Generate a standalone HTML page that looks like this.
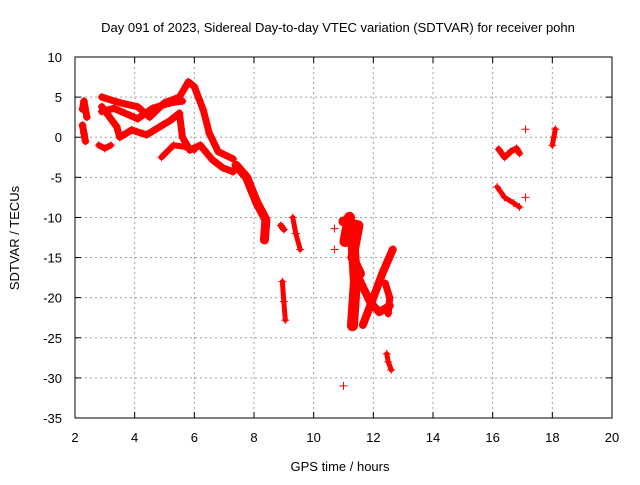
<!DOCTYPE html>
<html><head><meta charset="utf-8"><style>
body{margin:0;background:#fff}
svg text{font-family:"Liberation Sans",sans-serif;font-size:13px;fill:#000}
</style></head><body>
<svg id="chart" width="640" height="480" xmlns="http://www.w3.org/2000/svg">
<rect width="640" height="480" fill="#fff"/>
<text x="338" y="32" text-anchor="middle" font-size="13">Day 091 of 2023, Sidereal Day-to-day VTEC variation (SDTVAR) for receiver pohn</text>
<text x="340" y="471" text-anchor="middle">GPS time / hours</text>
<text transform="translate(19,238) rotate(-90)" text-anchor="middle">SDTVAR / TECUs</text>
<g id="grid"></g><g id="ticks"></g><g id="marks"></g>
<rect x="75" y="57" width="537" height="361" fill="none" stroke="#000" stroke-width="1"/>
</svg>
<script>
const xTicks=[2,4,6,8,10,12,14,16,18,20];
const yTicks=[10,5,0,-5,-10,-15,-20,-25,-30,-35];
const trackA_h=[2.9,3.5,4.1,4.5,5.0,5.5,5.8,6.0,6.3,6.5,6.8,7.3];
const trackA_v=[5.0,4.3,3.8,2.5,4.3,5.0,6.9,6.3,3.4,0.5,-1.8,-2.7];
const trackB_h=[2.9,3.4,3.5,3.9,4.4,5.2,5.5,5.6,5.85,6.2,6.6,6.95,7.3];
const trackB_v=[3.8,1.3,0.0,0.9,0.3,2.1,3.0,0.0,-1.6,-1.0,-2.8,-3.8,-4.3];
const trackC_h=[2.9,3.3,4.1,4.6,5.2,5.6];
const trackC_v=[3.2,3.6,2.3,3.6,4.3,4.5];
const trackD_h=[4.9,5.3,5.7,6.0];
const trackD_v=[-2.5,-1.0,-1.2,-1.6];
const trackE_h=[7.4,7.75,8.1,8.4,8.35];
const trackE_v=[-3.5,-5.0,-8.2,-10.3,-12.8];
const blob1_h=[2.25,2.3,2.4];const blob1_v=[3.5,4.5,2.5];
const blob2_h=[2.25,2.3,2.35];const blob2_v=[1.5,0.5,-0.5];
const blob3_h=[2.8,3.0,3.2];const blob3_v=[-1.0,-1.4,-1.0];
const seg9a_h=[8.9,9.0];const seg9a_v=[-11.0,-11.5];
const seg9b_h=[9.3,9.4,9.55];const seg9b_v=[-10.0,-12.0,-14.0];
const seg9c_h=[8.95,9.0,9.05];const seg9c_v=[-18.0,-20.5,-22.8];
const seg11a_h=[11.2,11.05,11.3,11.4,11.3];const seg11a_v=[-10.0,-13.0,-12.0,-18.0,-23.5];
const seg11b_h=[11.0,11.5,11.3,11.55];const seg11b_v=[-10.5,-11.0,-15.0,-17.0];
const seg12a_h=[11.65,12.0,12.3,12.65];const seg12a_v=[-23.4,-20.0,-17.0,-14.0];
const seg12b_h=[11.5,11.9,12.2,12.55];const seg12b_v=[-17.5,-20.6,-21.8,-21.0];
const seg12c_h=[12.4,12.55,12.5];const seg12c_v=[-18.2,-20.0,-22.0];
const seg12d_h=[12.45,12.5,12.6];const seg12d_v=[-27.0,-28.0,-29.0];
const seg16a_h=[16.2,16.4,16.6,16.8,16.9];const seg16a_v=[-1.5,-2.5,-1.8,-1.4,-2.0];
const seg16b_h=[16.15,16.4,16.7,16.9];const seg16b_v=[-6.2,-7.5,-8.2,-8.7];
const seg18_h=[18.0,18.05,18.1];const seg18_v=[-1.0,0.0,1.0];
const single_h=[10.7,10.7,11.0,17.1,17.1];const single_v=[-11.4,-14.0,-31.0,1.0,-7.5];

const X=h=>75+(h-2)*537/18, Y=v=>57+(10-v)*361/45;
const NS="http://www.w3.org/2000/svg";
function mk(t,p,parent){const e=document.createElementNS(NS,t);for(const k in p)e.setAttribute(k,p[k]);parent.appendChild(e);return e;}
const grid=document.getElementById('grid'),ticks=document.getElementById('ticks'),marks=document.getElementById('marks');
xTicks.forEach(t=>{
  if(t>2&&t<20){const g=mk('line',{x1:X(t),x2:X(t),y1:57,y2:418,stroke:'#a0a0a0','stroke-dasharray':'2,3'},grid);
  
  }
  mk('line',{x1:X(t),x2:X(t),y1:418,y2:412,stroke:'#000'},ticks);
  mk('line',{x1:X(t),x2:X(t),y1:57,y2:63,stroke:'#000'},ticks);
  const l=mk('text',{x:X(t),y:442,'text-anchor':'middle'},ticks);l.textContent=t;
  
  
});
yTicks.forEach(t=>{
  if(t<10&&t>-35){const g=mk('line',{x1:75,x2:612,y1:Y(t),y2:Y(t),stroke:'#a0a0a0','stroke-dasharray':'2,3'},grid);
  
  }
  mk('line',{x1:75,x2:81,y1:Y(t),y2:Y(t),stroke:'#000'},ticks);
  mk('line',{x1:612,x2:606,y1:Y(t),y2:Y(t),stroke:'#000'},ticks);
  const l=mk('text',{x:62,y:Y(t)+5,'text-anchor':'end'},ticks);l.textContent=t;
  
  
});
const tracks=[[trackA_h,trackA_v,7],[trackB_h,trackB_v,7],[trackC_h,trackC_v,7],[trackD_h,trackD_v,6],[trackE_h,trackE_v,9],
[blob1_h,blob1_v,7],[blob2_h,blob2_v,7],[blob3_h,blob3_v,6],[seg9a_h,seg9a_v,6],[seg9b_h,seg9b_v,5],[seg9c_h,seg9c_v,5],
[seg11a_h,seg11a_v,11],[seg11b_h,seg11b_v,10],[seg12a_h,seg12a_v,8],[seg12b_h,seg12b_v,8],[seg12c_h,seg12c_v,7],[seg12d_h,seg12d_v,5],
[seg16a_h,seg16a_v,6],[seg16b_h,seg16b_v,5],[seg18_h,seg18_v,5]];
tracks.forEach(([hs,vs,w])=>{
  const p=mk('polyline',{points:hs.map((h,i)=>X(h)+','+Y(vs[i])).join(' '),fill:'none',stroke:'#f00','stroke-width':w,'stroke-linejoin':'round','stroke-linecap':'round'},marks);
  
  
  hs.forEach((h,i)=>plus(h,vs[i]));
});
single_h.forEach((h,i)=>plus(h,single_v[i]));
function plus(h,v){const x=X(h),y=Y(v);
  const g=mk('path',{d:`M${x-4},${y}H${x+4}M${x},${y-4}V${y+4}`,stroke:'#f00','stroke-width':1},marks);
  
  }
</script>
</body></html>
